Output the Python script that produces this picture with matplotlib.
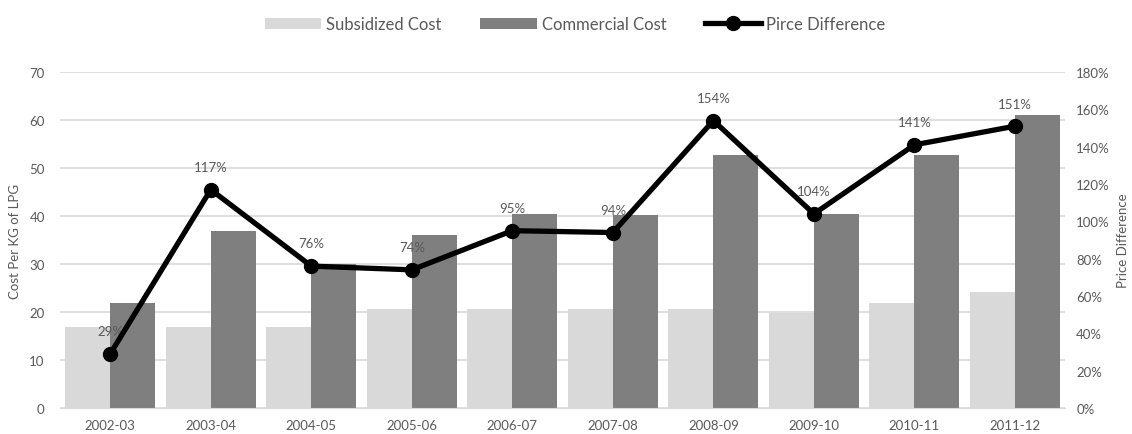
import numpy as np
import matplotlib.pyplot as plt
from matplotlib.ticker import PercentFormatter

plt.rcParams['font.family'] = ['Lato', 'DejaVu Sans']

years = ['2002-03', '2003-04', '2004-05', '2005-06', '2006-07',
         '2007-08', '2008-09', '2009-10', '2010-11', '2011-12']
subsidized = [16.9, 16.9, 16.9, 20.7, 20.7, 20.7, 20.7, 19.8, 21.8, 24.2]
commercial = [21.9, 36.9, 29.9, 36.0, 40.4, 40.2, 52.7, 40.4, 52.7, 61.0]
price_diff = [29, 117, 76, 74, 95, 94, 154, 104, 141, 151]

txt = '#595959'
x = np.arange(len(years))
w = 0.448

fig = plt.figure(figsize=(11.32, 4.35), dpi=100)
ax = fig.add_axes([0.053, 0.06, 0.888, 0.772])
ax2 = ax.twinx()

b1 = ax.bar(x - w / 2, subsidized, w, color='#d9d9d9', label='Subsidized Cost', zorder=2)
b2 = ax.bar(x + w / 2, commercial, w, color='#7f7f7f', label='Commercial Cost', zorder=2)
ax.set_ylim(0, 70)
ax.set_xlim(-0.5, len(years) - 0.5)
ax.set_yticks(range(0, 71, 10))
ax.set_xticks(x, years)
ax.grid(axis='y', color='#d9d9d9', linewidth=1.2, zorder=0)
ax.set_axisbelow(True)
ax.set_ylabel('Cost Per KG of LPG', color=txt, fontsize=9.5, labelpad=6)

ln, = ax2.plot(x, price_diff, color='black', linewidth=3.8, marker='o',
               markersize=10, label='Pirce Difference', zorder=5)
ax2.set_ylim(0, 180)
ax2.set_yticks(range(0, 181, 20))
ax2.yaxis.set_major_formatter(PercentFormatter(decimals=0))
ax2.set_ylabel('Price Difference', color=txt, fontsize=9.5, labelpad=5)
for xi, p in zip(x, price_diff):
    ax2.annotate(f'{p}%', (xi, p), xytext=(0, 12), textcoords='offset points',
                 ha='center', va='bottom', fontsize=9.5, color=txt)

for a in (ax, ax2):
    for s in a.spines.values():
        s.set_visible(False)
    a.tick_params(length=0, colors=txt, labelsize=9.5)
ax.spines['bottom'].set_visible(True)
ax.spines['bottom'].set_color('#d9d9d9')
ax.tick_params(axis='y', pad=11)
ax.tick_params(axis='x', pad=8)
ax2.tick_params(axis='y', pad=8)

leg = fig.legend(handles=[b1, b2, ln], loc='upper center', bbox_to_anchor=(0.508, 0.995),
                 ncol=3, frameon=False, fontsize=12, handlelength=3.4,
                 columnspacing=2.3, handletextpad=0.3)
for t in leg.get_texts():
    t.set_color(txt)

fig.savefig('out.png', dpi=100)
